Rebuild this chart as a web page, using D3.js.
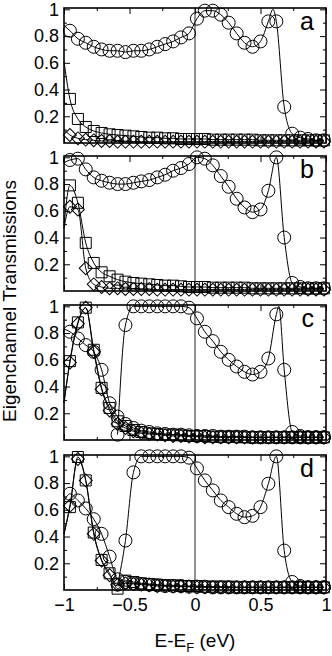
<!DOCTYPE html>
<html>
<head>
<meta charset="utf-8">
<script src="https://cdn.jsdelivr.net/npm/d3@7"></script>
<style>
  body { margin: 0; background: #fff; }
  svg { display: block; }
  text { font-family: "Liberation Sans", Arial, sans-serif; fill: #000; }
</style>
</head>
<body>
<svg></svg>
<script>
const width = 332;
const height = 656;

// DATA (energies of the markers, E-EF in eV)
const energies = [-0.955, -0.894, -0.834, -0.773, -0.713, -0.652, -0.591, -0.531, -0.470, -0.410,
  -0.349, -0.288, -0.228, -0.167, -0.107, -0.046, 0.015, 0.075, 0.136, 0.197, 0.257, 0.318,
  0.378, 0.439, 0.500, 0.560, 0.621, 0.681, 0.742, 0.803, 0.863, 0.924, 0.984];

// panel a
const aCircle = [0.84, 0.78, 0.75, 0.72, 0.70, 0.69, 0.69, 0.68, 0.69, 0.69, 0.70, 0.72, 0.74, 0.76, 0.79, 0.82,
  0.93, 0.99, 0.99, 0.96, 0.90, 0.82, 0.75, 0.72, 0.76, 0.91, 0.91, 0.27, 0.07, 0.04, 0.03, 0.02, 0.02];
const aSquare = [0.33, 0.18, 0.12, 0.09, 0.075, 0.065, 0.06, 0.055, 0.05, 0.045, 0.04, 0.04, 0.035, 0.035, 0.03, 0.03,
  0.03, 0.03, 0.025, 0.025, 0.025, 0.025, 0.025, 0.025, 0.02, 0.02, 0.02, 0.02, 0.02, 0.02, 0.02, 0.02, 0.02];
const aDiamond = [0.06, 0.035, 0.025, 0.02, 0.015, 0.015, 0.01, 0.01, 0.01, 0.01, 0.01, 0.01, 0.01, 0.01, 0.01, 0.01,
  0.01, 0.01, 0.01, 0.01, 0.01, 0.01, 0.01, 0.01, 0.01, 0.01, 0.01, 0.01, 0.01, 0.01, 0.01, 0.01, 0.01];
const aCircleExtra = [[-1, 0.88], [0.595, 1.0]];
const aSquareExtra = [[-1, 0.61]];
const aDiamondExtra = [[-1, 0.1]];

// panel b
const bCircle = [0.98, 0.99, 0.91, 0.85, 0.825, 0.81, 0.80, 0.80, 0.81, 0.82, 0.83, 0.85, 0.87, 0.90, 0.92, 0.95,
  1.0, 0.99, 0.94, 0.86, 0.78, 0.69, 0.625, 0.59, 0.61, 0.75, 1.0, 0.40, 0.06, 0.03, 0.02, 0.02, 0.02];
const bSquare = [0.79, 0.66, 0.36, 0.21, 0.14, 0.11, 0.085, 0.07, 0.06, 0.055, 0.05, 0.045, 0.04, 0.04, 0.035, 0.03,
  0.03, 0.03, 0.025, 0.025, 0.025, 0.025, 0.025, 0.02, 0.02, 0.02, 0.02, 0.02, 0.02, 0.02, 0.02, 0.02, 0.02];
const bDiamond = [0.63, 0.61, 0.17, 0.05, 0.03, 0.02, 0.02, 0.015, 0.015, 0.015, 0.015, 0.01, 0.01, 0.01, 0.01, 0.01,
  0.01, 0.01, 0.01, 0.01, 0.01, 0.01, 0.01, 0.01, 0.01, 0.01, 0.01, 0.01, 0.01, 0.01, 0.01, 0.01, 0.01];
const bCircleExtra = [[-1, 0.96]];
const bSquareExtra = [[-1, 0.49]];
const bDiamondExtra = [[-1, 0.47]];

// panel c
const cCircle = [null, null, null, null, null, null, 0.04, 0.86, 1.0, 1.0, 1.0, 1.0, 1.0, 1.0, 1.0, 0.99,
  0.91, 0.81, 0.74, 0.66, 0.60, 0.55, 0.51, 0.49, 0.51, 0.61, 0.94, 0.525, 0.06, 0.03, 0.02, 0.02, 0.02];
const cCircle2 = [0.81, 0.76, 0.71, 0.66, 0.525, 0.275, 0.175, 0.12, 0.09, 0.07, 0.06, 0.05, 0.045, 0.04, 0.04, 0.035,
  0.03, 0.03, 0.03, 0.025, 0.025, 0.025, 0.025, 0.02, 0.02, 0.02, 0.02, 0.02, 0.02, 0.02, 0.02, 0.02, 0.02];
const cSquare = [0.59, 0.88, 0.99, 0.675, 0.39, 0.24, 0.14, 0.105, 0.075, 0.06, 0.05, 0.045, 0.04, 0.04, 0.035, 0.03,
  0.03, 0.03, 0.025, 0.025, 0.025, 0.025, 0.02, 0.02, 0.02, 0.02, 0.02, 0.02, 0.02, 0.02, 0.02, 0.02, 0.02];
const cDiamond = [0.58, 0.87, 0.99, 0.66, 0.38, 0.22, 0.12, 0.09, 0.065, 0.05, 0.045, 0.04, 0.035, 0.03, 0.03, 0.025,
  0.025, 0.02, 0.02, 0.02, 0.02, 0.02, 0.02, 0.02, 0.02, 0.02, 0.02, 0.02, 0.02, 0.02, 0.02, 0.02, 0.02];
const cCircleExtra = [[0.64, 1.0]];
const cCircle2Extra = [[-1, 0.83]];
const cSquareExtra = [[-1, 0.28]];
const cDiamondExtra = [[-1, 0.28]];

// panel d
const dCircle = [null, null, null, null, null, null, 0.04, 0.37, 0.88, 1.0, 1.0, 1.0, 1.0, 1.0, 1.0, 0.99,
  0.91, 0.82, 0.745, 0.67, 0.62, 0.57, 0.545, 0.555, 0.62, 0.795, 1.0, 0.295, 0.06, 0.03, 0.02, 0.02, 0.02];
const dCircle2 = [0.72, 0.67, 0.61, 0.53, 0.42, 0.25, 0.08, 0.06, 0.05, 0.045, 0.04, 0.035, 0.03, 0.03, 0.03, 0.025,
  0.025, 0.025, 0.02, 0.02, 0.02, 0.02, 0.02, 0.02, 0.02, 0.02, 0.02, 0.02, 0.02, 0.02, 0.02, 0.02, 0.02];
const dSquare = [0.62, 0.995, 0.82, 0.43, 0.225, 0.125, 0.01, 0.07, 0.06, 0.05, 0.045, 0.04, 0.035, 0.035, 0.03, 0.03,
  0.03, 0.025, 0.025, 0.025, 0.025, 0.02, 0.02, 0.02, 0.02, 0.02, 0.02, 0.02, 0.02, 0.02, 0.02, 0.02, 0.02];
const dDiamond = [0.63, 0.98, 0.82, 0.42, 0.22, 0.11, 0.04, 0.05, 0.045, 0.04, 0.035, 0.03, 0.03, 0.025, 0.025, 0.025,
  0.02, 0.02, 0.02, 0.02, 0.02, 0.02, 0.02, 0.02, 0.02, 0.02, 0.02, 0.02, 0.02, 0.02, 0.02, 0.02, 0.02];
const dCircle2Extra = [[-1, 0.66]];
const dSquareExtra = [[-1, 0.42]];
const dDiamondExtra = [[-1, 0.42]];

const panelLabels = ['a', 'b', 'c', 'd'];
const yTicks = [0.2, 0.4, 0.6, 0.8, 1];
const yMinorTicks = [0.1, 0.3, 0.5, 0.7, 0.9];
const xTicks = [-1, -0.5, 0, 0.5, 1];
const xMinorTicks = [-0.75, -0.25, 0.25, 0.75];

const panelSeries = [
  [['circle', aCircle, aCircleExtra], ['square', aSquare, aSquareExtra], ['diamond', aDiamond, aDiamondExtra]],
  [['circle', bCircle, bCircleExtra], ['square', bSquare, bSquareExtra], ['diamond', bDiamond, bDiamondExtra]],
  [['circle', cCircle, cCircleExtra], ['circle', cCircle2, cCircle2Extra], ['square', cSquare, cSquareExtra], ['diamond', cDiamond, cDiamondExtra]],
  [['circle', dCircle, []], ['circle', dCircle2, dCircle2Extra], ['square', dSquare, dSquareExtra], ['diamond', dDiamond, dDiamondExtra]]
];

// LAYOUT
const left = 64, right = 326;
const panelTops = [8, 156, 305, 455];
const panelH = 135;
const tickFont = '18px';

const svg = d3.select('svg')
  .attr('width', width)
  .attr('height', height);

const xScale = d3.scaleLinear().domain([-1, 1]).range([left, right]);

const symbols = {
  circle: d3.symbol().type(d3.symbolCircle).size(Math.PI * 6.5 * 6.5),
  square: d3.symbol().type(d3.symbolSquare).size(121),
  diamond: d3.symbol().type(d3.symbolSquare).size(84)
};

panelSeries.forEach((seriesList, i) => {
  const top = panelTops[i];
  const yScale = d3.scaleLinear().domain([0, 1.01]).range([top + panelH, top]);
  const g = svg.append('g');

  // axes: inward ticks on all four sides
  const addAxis = (axis, tf) => {
    const a = g.append('g').attr('transform', tf).call(axis);
    a.select('.domain').remove();
    a.selectAll('line').attr('stroke', '#000').attr('stroke-width', 1);
    return a;
  };
  const leftAx = addAxis(d3.axisLeft(yScale).tickValues(yTicks).tickSize(-6).tickPadding(5)
    .tickFormat(d => d === 1 ? '1' : d3.format('.1f')(d)), `translate(${left},0)`);
  leftAx.selectAll('text').style('font-size', tickFont).attr('font-family', '"Liberation Sans", Arial, sans-serif');
  addAxis(d3.axisLeft(yScale).tickValues(yMinorTicks).tickSize(-3).tickFormat(''), `translate(${left},0)`);
  addAxis(d3.axisRight(yScale).tickValues(yTicks).tickSize(-6).tickFormat(''), `translate(${right},0)`);
  addAxis(d3.axisRight(yScale).tickValues(yMinorTicks).tickSize(-3).tickFormat(''), `translate(${right},0)`);
  addAxis(d3.axisTop(xScale).tickValues(xTicks).tickSize(-6).tickFormat(''), `translate(0,${top})`);
  addAxis(d3.axisTop(xScale).tickValues(xMinorTicks).tickSize(-3).tickFormat(''), `translate(0,${top})`);
  const bottomAx = addAxis(d3.axisBottom(xScale).tickValues(xTicks).tickSize(-6).tickPadding(8)
    .tickFormat(i === 3 ? d => d3.format('')(d) : ''), `translate(0,${top + panelH})`);
  bottomAx.selectAll('text').style('font-size', tickFont).attr('font-family', '"Liberation Sans", Arial, sans-serif');
  addAxis(d3.axisBottom(xScale).tickValues(xMinorTicks).tickSize(-3).tickFormat(''), `translate(0,${top + panelH})`);

  // zero line
  g.append('line')
    .attr('x1', xScale(0)).attr('x2', xScale(0))
    .attr('y1', top).attr('y2', top + panelH)
    .attr('stroke', '#222').attr('stroke-width', 1);

  // lines
  const line = d3.line()
    .x(d => xScale(d[0]))
    .y(d => yScale(d[1]))
    .curve(d3.curveMonotoneX);

  seriesList.forEach(([shape, values, extra]) => {
    const pts = energies.map((e, k) => [e, values[k]]).filter(d => d[1] !== null);
    const linePts = pts.concat(extra).sort((p, q) => p[0] - q[0]);
    g.append('path')
      .attr('d', line(linePts))
      .attr('fill', 'none')
      .attr('stroke', '#000')
      .attr('stroke-width', 1);

    g.selectAll(null)
      .data(pts)
      .enter()
      .append('path')
        .attr('d', symbols[shape])
        .attr('transform', d => `translate(${xScale(d[0])},${yScale(d[1])})` + (shape === 'diamond' ? ' rotate(45)' : ''))
        .attr('fill', 'none')
        .attr('stroke', '#000')
        .attr('stroke-width', 1);
  });

  // frame
  g.append('rect')
    .attr('x', left).attr('y', top)
    .attr('width', right - left).attr('height', panelH)
    .attr('fill', 'none')
    .attr('stroke', '#000')
    .attr('stroke-width', 1.6);

  // panel letter
  g.append('text')
    .attr('x', 314)
    .attr('y', top + 22)
    .style('text-anchor', 'end')
    .style('font-size', '25px')
    .text(panelLabels[i]);
});

// AXIS TITLES
const xTitle = svg.append('text')
  .attr('x', 195)
  .attr('y', 647)
  .style('text-anchor', 'middle')
  .style('font-size', '19px');
xTitle.append('tspan').text('E-E');
xTitle.append('tspan').attr('dy', 5).style('font-size', '13px').text('F');
xTitle.append('tspan').attr('dy', -5).text(' (eV)');

svg.append('text')
  .attr('transform', 'rotate(-90)')
  .attr('x', -301)
  .attr('y', 16)
  .style('text-anchor', 'middle')
  .style('font-size', '19px')
  .text('Eigenchannel Transmissions');
</script>
</body>
</html>
